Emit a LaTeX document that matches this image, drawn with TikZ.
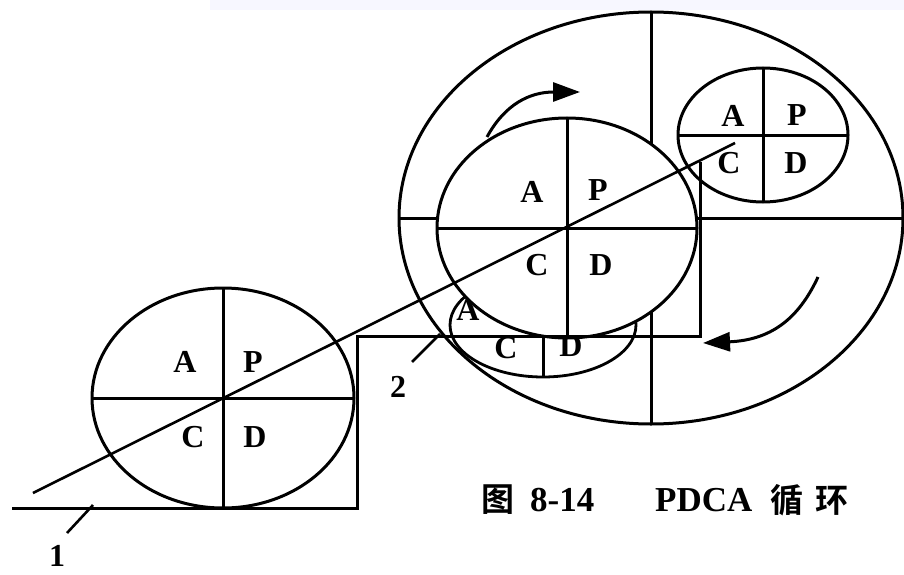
\documentclass[tikz,border=0pt]{standalone}
\usepackage{fontspec}
\setmainfont{Liberation Serif}
\newfontfamily\cjk{Noto Sans CJK SC}[BoldFont={* Bold}]
\usetikzlibrary{shapes.geometric,arrows.meta}
\begin{document}
\begin{tikzpicture}[x=1pt,y=-1pt,
  ring/.style={ellipse, draw, line width=3pt, fill=white, inner sep=0pt, outer sep=0pt},
  openring/.style={ellipse, draw, line width=2.8pt, inner sep=0pt, outer sep=0pt},
  ln/.style={line width=3pt},
  thinln/.style={line width=2.6pt},
  lbl/.style={font=\fontsize{32}{32}\selectfont\bfseries, inner sep=0pt},
  numlbl/.style={font=\fontsize{32}{32}\selectfont\bfseries, inner sep=0pt},
  caplat/.style={font=\fontsize{35}{35}\selectfont\bfseries, inner sep=0pt, anchor=west},
  capcjk/.style={font=\fontsize{33}{33}\selectfont\cjk\bfseries, inner sep=0pt, anchor=west},
  turn/.style={line width=3pt, -{Triangle[length=27pt,width=19pt]}}]
\useasboundingbox (0,0) rectangle (904,575);
\fill[white] (0,0) rectangle (904,575);
\fill[blue!3!white] (210,0) rectangle (904,10);

% big outer circle
\node[ring, minimum width=504pt, minimum height=412pt] (big) at (651,218) {};
\draw[ln] (big.north) -- (big.south);
\draw[ln] (big.west) -- (big.east);

% partly hidden circle on the middle step
\node[openring, minimum width=186pt, minimum height=104pt] (part) at (543,325) {};
\coordinate (partc) at (543,325);
\draw[ln] (partc) -- (part.south);
\node[lbl] (pa) at (468,310) {A};
\node[lbl] (pc) at (506,348) {C};
\node[lbl] (pd) at (571,346) {D};

% middle circle
\node[ring, minimum width=260pt, minimum height=220pt] (mid) at (567,228) {};
\draw[ln] (mid.north) -- (mid.south);
\draw[ln] (mid.west) -- (mid.east);
\node[lbl] (ma) at (532,192) {A};
\node[lbl] (mp) at (598,190) {P};
\node[lbl] (mc) at (537,265) {C};
\node[lbl] (md) at (601,265) {D};

% small upper circle
\node[ring, minimum width=170pt, minimum height=134pt] (small) at (763,135) {};
\draw[ln] (small.north) -- (small.south);
\draw[ln] (small.west) -- (small.east);
\node[lbl] (sa) at (733,116) {A};
\node[lbl] (sp) at (797,115) {P};
\node[lbl] (sc) at (729,163) {C};
\node[lbl] (sd) at (796,163) {D};

% lower left circle
\node[ring, minimum width=262pt, minimum height=220pt] (low) at (223,398) {};
\draw[ln] (low.north) -- (low.south);
\draw[ln] (low.west) -- (low.east);
\node[lbl] (la) at (185,362) {A};
\node[lbl] (lp) at (253,362) {P};
\node[lbl] (lc) at (193,437) {C};
\node[lbl] (ld) at (255,437) {D};

% stairs
\coordinate (g0) at (12,508);
\coordinate (s1) at (357,508);
\coordinate (s2) at (357,336);
\coordinate (s3) at (700,336);
\coordinate (s4) at (700,162);
\draw[ln] (g0) -- (s1) -- (s2) -- (s3) -- (s4);

% slope line
\coordinate (d0) at (33,493);
\coordinate (d1) at (735,143);
\draw[thinln] (d0) -- (d1);

% turning arrows
\coordinate (t0) at (487,137);
\coordinate (t1) at (580,92);
\draw[turn] (t0) .. controls (505,104) and (530,92) .. (t1);
\coordinate (b0) at (818,277);
\coordinate (b1) at (703,343);
\draw[turn] (b0) .. controls (798,320) and (770,340) .. (b1);

% level labels
\node[numlbl] (n1) at (57,556) {1};
\coordinate (n1a) at (67,533);
\coordinate (n1b) at (93,505);
\draw[thinln] (n1a) -- (n1b);
\node[numlbl] (n2) at (398,387) {2};
\coordinate (n2a) at (412,362);
\coordinate (n2b) at (440,334);
\draw[thinln] (n2a) -- (n2b);

% caption
\node[capcjk] (c1) at (481,500) {图};
\node[caplat] (c2) at (530,500) {8-14};
\node[caplat] (c3) at (655,500) {PDCA};
\node[capcjk] (c4) at (770,500) {循\kern12pt 环};
\end{tikzpicture}
\end{document}
